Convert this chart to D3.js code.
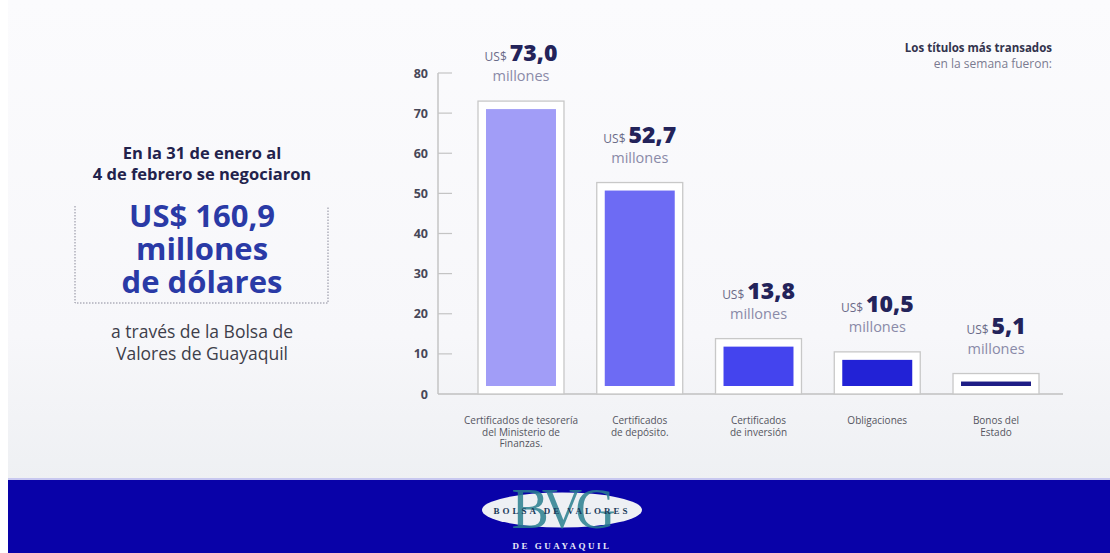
<!DOCTYPE html>
<html>
<head>
<meta charset="utf-8">
<script src="https://cdn.jsdelivr.net/npm/d3@7"></script>
<style>
  html, body { margin: 0; padding: 0; background: #ffffff; }
  svg { display: block; }
</style>
</head>
<body>
<svg id="chart" width="1110" height="553"></svg>
<script>
// Títulos más transados en la semana (millones de US$)
const categories = [
  ["Certificados de tesorería", "del Ministerio de", "Finanzas."],
  ["Certificados", "de depósito."],
  ["Certificados", "de inversión"],
  ["Obligaciones"],
  ["Bonos del", "Estado"]
];
const values = [73.0, 52.7, 13.8, 10.5, 5.1];
const valueLabels = ["73,0", "52,7", "13,8", "10,5", "5,1"];
const barColors = ["#a19df7", "#6d6bf4", "#4444ee", "#2222d6", "#1e1d86"];
const yTicks = [0, 10, 20, 30, 40, 50, 60, 70, 80];

const headline = ["En la 31 de enero al", "4 de febrero se negociaron"];
const totalLines = ["US$ 160,9", "millones", "de dólares"];
const footnote = ["a través de la Bolsa de", "Valores de Guayaquil"];

const svg = d3.select("#chart");
const W = 1110, H = 553;
const FONT = "'Open Sans', 'Noto Sans', sans-serif";

// background
const defs = svg.append("defs");
const bg = defs.append("linearGradient").attr("id", "bg").attr("x1", 0).attr("y1", 0).attr("x2", 0).attr("y2", 1);
bg.append("stop").attr("offset", "0%").attr("stop-color", "#fbfbfd");
bg.append("stop").attr("offset", "70%").attr("stop-color", "#f7f7fa");
bg.append("stop").attr("offset", "100%").attr("stop-color", "#eef0f3");
svg.append("rect").attr("x", 0).attr("y", 0).attr("width", W).attr("height", H).attr("fill", "#ffffff");
svg.append("rect").attr("x", 8).attr("y", 0).attr("width", W - 8).attr("height", 480).attr("fill", "url(#bg)");

// scales
const y = d3.scaleLinear().domain([0, 80]).range([394, 73]);
const x = d3.scaleBand().domain(d3.range(values.length)).range([478, 1039]).paddingInner(0.276).paddingOuter(0);

// y axis
const axisX = 438;
const yAxis = d3.axisLeft(y).tickValues(yTicks).tickSize(0).tickPadding(10).tickFormat(d3.format("d"));
const gAxis = svg.append("g").attr("transform", `translate(${axisX},0)`).call(yAxis);
gAxis.select(".domain").remove();
gAxis.selectAll("text")
  .attr("font-family", FONT).attr("font-size", 12.5).attr("font-weight", 700)
  .attr("fill", "#474758");
svg.append("line").attr("x1", axisX).attr("x2", axisX).attr("y1", y(80)).attr("y2", y(0))
  .attr("stroke", "#b8b8b8").attr("stroke-width", 1.2);
svg.selectAll(".ytick").data(yTicks.filter(d => d > 0)).enter().append("line")
  .attr("x1", axisX).attr("x2", axisX + 14)
  .attr("y1", d => y(d)).attr("y2", d => y(d))
  .attr("stroke", "#c4c4c4").attr("stroke-width", 1.2);
// baseline
svg.append("line").attr("x1", axisX).attr("x2", 1063).attr("y1", y(0)).attr("y2", y(0))
  .attr("stroke", "#c0c0c0").attr("stroke-width", 1.3);

// bars: white frame holding the value, coloured fill inset
const inset = 8;
const bars = svg.selectAll(".bar").data(values).enter().append("g").attr("class", "bar");
bars.append("rect")
  .attr("x", (d, i) => x(i)).attr("width", x.bandwidth())
  .attr("y", d => y(d)).attr("height", d => y(0) - y(d))
  .attr("fill", "#ffffff").attr("stroke", "#c8c8c8").attr("stroke-width", 1.3);
bars.append("rect")
  .attr("x", (d, i) => x(i) + inset).attr("width", x.bandwidth() - 2 * inset)
  .attr("y", d => y(d) + inset).attr("height", d => Math.max(3, y(0) - y(d) - 2 * inset))
  .attr("fill", (d, i) => barColors[i]);

// value labels
const lab = svg.selectAll(".vlab").data(values).enter().append("g")
  .attr("transform", (d, i) => `translate(${x(i) + x.bandwidth() / 2},${y(d)})`);
const t = lab.append("text").attr("y", -40).attr("text-anchor", "middle").attr("font-family", FONT);
t.append("tspan").text("US$").attr("font-size", 12).attr("fill", "#6a6a88");
t.append("tspan").text((d, i) => valueLabels[i]).attr("dx", 3)
  .attr("font-size", 23).attr("font-weight", 800).attr("fill", "#23235a");
lab.append("text").attr("y", -20).attr("text-anchor", "middle")
  .attr("font-family", FONT).attr("font-size", 14.5).attr("fill", "#8a8aa8").text("millones");

// category labels
const cat = svg.selectAll(".cat").data(categories).enter().append("text")
  .attr("text-anchor", "middle").attr("font-family", FONT).attr("font-size", 10).attr("fill", "#55555f")
  .attr("transform", (d, i) => `translate(${x(i) + x.bandwidth() / 2},${y(0) + 30})`);
cat.selectAll("tspan").data(d => d).enter().append("tspan")
  .attr("x", 0).attr("dy", (d, j) => j === 0 ? 0 : 11.5).text(d => d);

// top-right caption
svg.append("text").attr("x", 1052).attr("y", 52).attr("text-anchor", "end")
  .attr("font-family", FONT).attr("font-size", 11.5).attr("font-weight", 700).attr("fill", "#33334d")
  .text("Los títulos más transados");
svg.append("text").attr("x", 1052).attr("y", 68).attr("text-anchor", "end")
  .attr("font-family", FONT).attr("font-size", 12).attr("fill", "#7a7a90")
  .text("en la semana fueron:");

// left summary block
const cx = 202;
svg.selectAll(".head").data(headline).enter().append("text")
  .attr("x", cx).attr("y", (d, i) => 159 + i * 21).attr("text-anchor", "middle")
  .attr("font-family", FONT).attr("font-size", 16.5).attr("font-weight", 700).attr("fill", "#22224c")
  .text(d => d);
svg.selectAll(".total").data(totalLines).enter().append("text")
  .attr("x", cx).attr("y", (d, i) => 227 + i * 33).attr("text-anchor", "middle")
  .attr("font-family", FONT).attr("font-size", 31).attr("font-weight", 700).attr("fill", "#2a3aa6")
  .text(d => d);
// dotted frame around the total
const frame = d3.path();
frame.moveTo(75, 206); frame.lineTo(75, 303); frame.lineTo(328, 303); frame.lineTo(328, 206);
svg.append("path").attr("d", frame.toString()).attr("fill", "none")
  .attr("stroke", "#8a8a9a").attr("stroke-width", 1).attr("stroke-dasharray", "1.5,1.5");
svg.selectAll(".foot").data(footnote).enter().append("text")
  .attr("x", cx).attr("y", (d, i) => 338 + i * 22).attr("text-anchor", "middle")
  .attr("font-family", FONT).attr("font-size", 17.5).attr("fill", "#3e3e4a")
  .text(d => d);

// footer band with the exchange logo
svg.append("rect").attr("x", 8).attr("y", 478).attr("width", W - 8).attr("height", 2).attr("fill", "#c8c8f0");
svg.append("rect").attr("x", 8).attr("y", 480).attr("width", W - 8).attr("height", H - 480).attr("fill", "#0902a8");
const logo = svg.append("g").attr("transform", "translate(562,510)");
logo.append("ellipse").attr("rx", 80).attr("ry", 17.5).attr("fill", "#eef0f4");
logo.append("text").attr("x", -2).attr("y", 18).attr("text-anchor", "middle")
  .attr("font-family", "'Liberation Serif', serif").attr("font-size", 56).attr("fill", "#2a8090")
  .attr("opacity", 0.85).attr("letter-spacing", -7).text("BVG");
logo.append("text").attr("y", 4).attr("text-anchor", "middle")
  .attr("font-family", "'Liberation Serif', serif").attr("font-size", 9).attr("font-weight", 700)
  .attr("fill", "#1a3a5a").attr("letter-spacing", 3).text("BOLSA DE VALORES");
logo.append("text").attr("y", 39).attr("text-anchor", "middle")
  .attr("font-family", "'Liberation Serif', serif").attr("font-size", 9).attr("font-weight", 700).attr("fill", "#e8e8f8")
  .attr("letter-spacing", 2.5).text("DE GUAYAQUIL");
</script>
</body>
</html>
